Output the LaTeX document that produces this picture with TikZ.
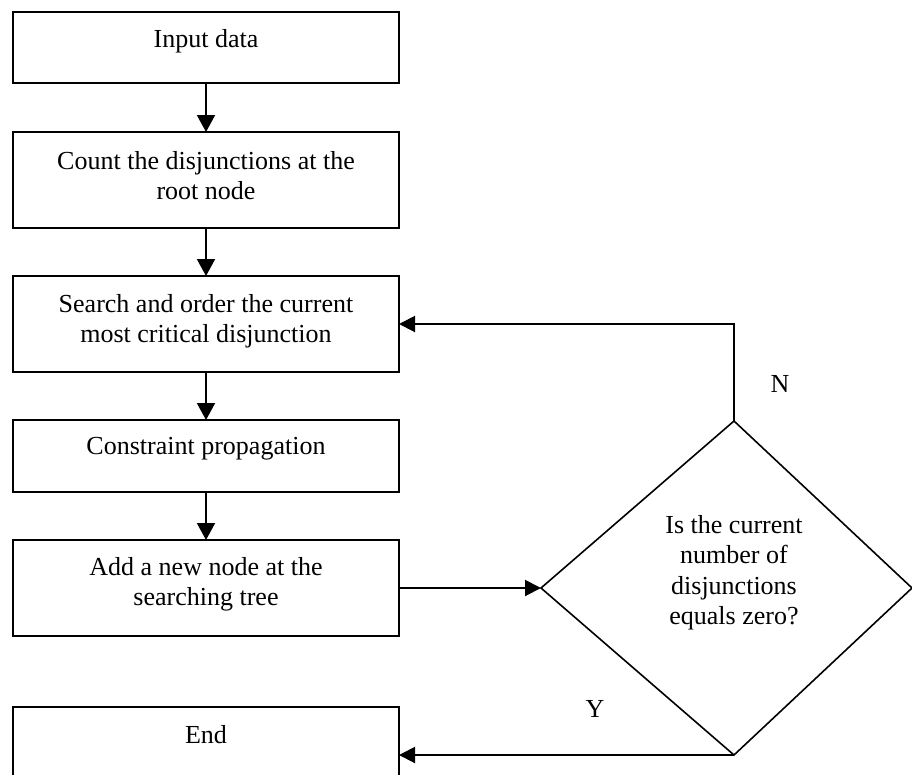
\documentclass[tikz,border=0pt]{standalone}
\usepackage{fontspec}
\setmainfont{Liberation Serif}
\usetikzlibrary{arrows.meta}
\begin{document}
\begin{tikzpicture}[x=1pt,y=-1pt,
  box/.style={draw, line width=2.2pt, minimum width=386pt, inner sep=0pt, outer sep=0pt},
  txt/.style={anchor=north, align=center, inner sep=0pt, font=\fontsize{26}{30.5}\selectfont},
  lab/.style={anchor=base, inner sep=0pt, font=\fontsize{26}{30.5}\selectfont},
  arr/.style={line width=2pt, -{Triangle[length=16pt,width=16pt]}},
  varr/.style={line width=2pt, -{Triangle[length=17pt,width=18pt]}},
  dia/.style={line width=1.6pt, line join=miter}]
\useasboundingbox (0,0) rectangle (912,774);
% boxes
\node[box, minimum height=71pt] (b1) at (206,47.5) {};
\node[box, minimum height=96pt] (b2) at (206,180) {};
\node[box, minimum height=96pt] (b3) at (206,324) {};
\node[box, minimum height=72pt] (b4) at (206,456) {};
\node[box, minimum height=96pt] (b5) at (206,588) {};
\node[box, minimum height=69pt] (b6) at (206,741.5) {};
% box texts
\node[txt] (t1) at (206,29.4) {Input data};
\node[txt] (t2) at (206,151.2) {Count the disjunctions at the\\root node};
\node[txt] (t3) at (206,294.2) {Search and order the current\\most critical disjunction};
\node[txt] (t4) at (206,437.2) {Constraint propagation};
\node[txt] (t5) at (206,557.2) {Add a new node at the\\searching tree};
\node[txt] (t6) at (206,725.2) {End};
% decision diamond
\coordinate (dT) at (734,421);
\coordinate (dR) at (912,588);
\coordinate (dB) at (734,755);
\coordinate (dL) at (541,588);
\draw[dia] (dT) -- (dR) -- (dB) -- (dL) -- cycle;
\node[txt] (dq) at (734,515.2) {Is the current\\number of\\disjunctions\\equals zero?};
% labels
\node[lab] (lN) at (780,392) {N};
\node[lab] (lY) at (595,717) {Y};
% connectors
\draw[varr] (b1.south) -- (b2.north);
\draw[varr] (b2.south) -- (b3.north);
\draw[varr] (b3.south) -- (b4.north);
\draw[varr] (b4.south) -- (b5.north);
\draw[arr] (b5.east) -- (dL);
\draw[arr] (dT) -- (dT |- b3.east) -- (b3.east);
\draw[arr] (dB) -- (dB -| b6.east);
\end{tikzpicture}
\end{document}
